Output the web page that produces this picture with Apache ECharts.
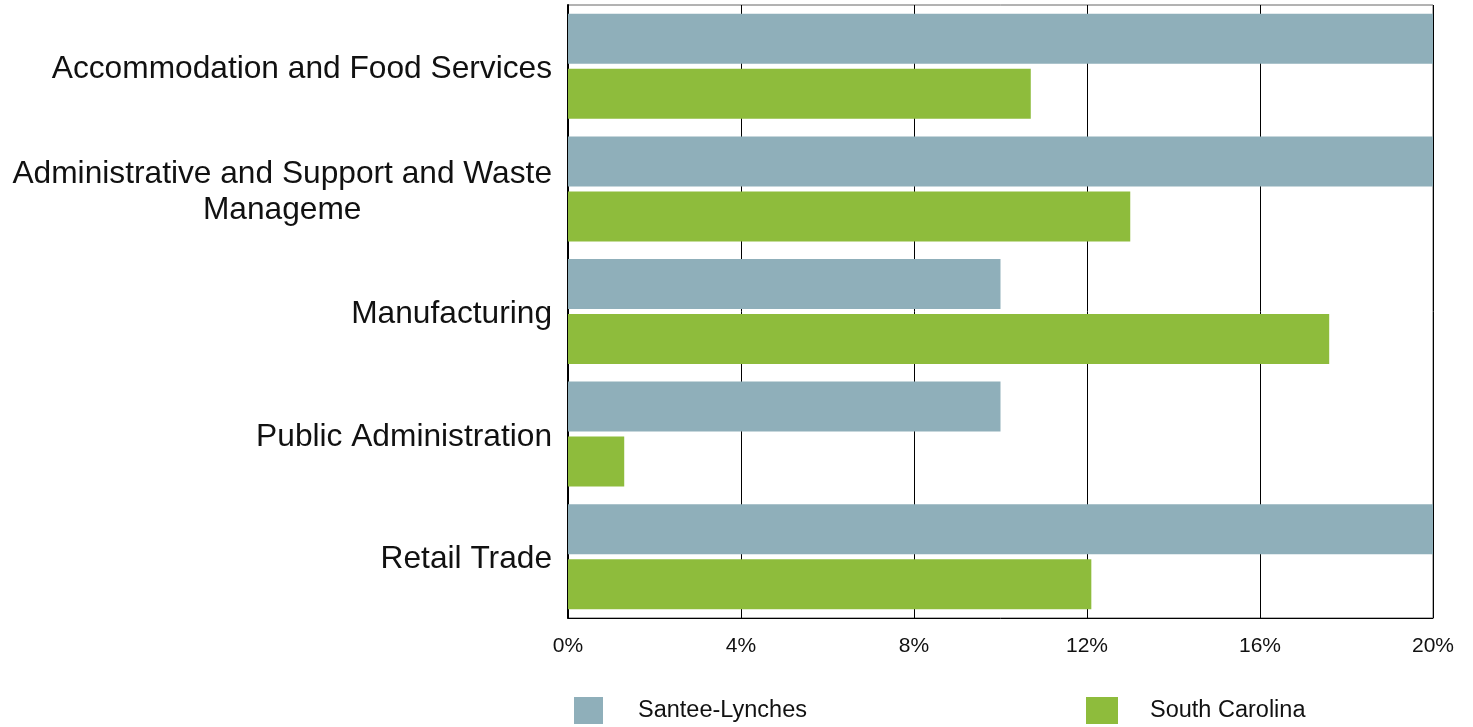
<!DOCTYPE html>
<html>
<head>
<meta charset="utf-8">
<script src="https://cdn.jsdelivr.net/npm/echarts@6/dist/echarts.min.js"></script>
<style>
  html, body { margin: 0; padding: 0; background: #fff; }
  #chart { width: 1473px; height: 727px; }
</style>
</head>
<body>
<div id="chart"></div>
<script>
  var categories = [
    'Accommodation and Food Services',
    'Administrative and Support and Waste\nManageme',
    'Manufacturing',
    'Public Administration',
    'Retail Trade'
  ];
  var santeeLynches = [20, 20, 10, 10, 20];
  var southCarolina = [10.7, 13.0, 17.6, 1.3, 12.1];
  var xTicks = [0, 4, 8, 12, 16, 20];

  var chart = echarts.init(document.getElementById('chart'));

  chart.setOption({
    animation: false,
    textStyle: { fontFamily: "'Liberation Sans', Arial, sans-serif" },
    grid: {
      left: 568, top: 5, right: 40, bottom: 109,
      show: true, borderColor: '#666', borderWidth: 1
    },
    legend: [
      {
        data: ['Santee-Lynches'], left: 569, top: 692,
        itemWidth: 29, itemHeight: 27, icon: 'rect',
        textStyle: { fontSize: 23.5, color: '#111', padding: [6, 0, 0, 30] }
      },
      {
        data: ['South Carolina'], left: 1081, top: 692,
        itemWidth: 32, itemHeight: 27, icon: 'rect',
        textStyle: { fontSize: 23.5, color: '#111', padding: [6, 0, 0, 27] }
      }
    ],
    xAxis: {
      type: 'value', min: xTicks[0], max: xTicks[xTicks.length - 1], interval: 4,
      axisLine: { show: true, lineStyle: { color: '#000', width: 1 } },
      axisTick: { show: false },
      splitLine: { show: true, lineStyle: { color: '#000', width: 1 } },
      axisLabel: {
        formatter: '{value}%', fontSize: 21, color: '#111', margin: 18
      }
    },
    yAxis: {
      type: 'category', data: categories, inverse: true,
      axisLine: { show: true, lineStyle: { color: '#000', width: 2 } },
      axisTick: { show: false },
      axisLabel: {
        margin: 16, color: '#111',
        formatter: function (v) { return '{c|' + v + '}'; },
        rich: {
          c: { fontSize: 31.7, lineHeight: 36, align: 'center', color: '#111', padding: [6, 0, 0, 0] }
        }
      }
    },
    series: [
      {
        name: 'Santee-Lynches', type: 'bar', data: santeeLynches,
        itemStyle: { color: '#8FAFBA' },
        barWidth: '40.8%', barGap: '10%', barCategoryGap: '14%'
      },
      {
        name: 'South Carolina', type: 'bar', data: southCarolina,
        itemStyle: { color: '#8EBC3C' },
        barWidth: '40.8%', barGap: '10%', barCategoryGap: '14%'
      }
    ]
  });

  window.addEventListener('resize', function () { chart.resize(); });
</script>
</body>
</html>
